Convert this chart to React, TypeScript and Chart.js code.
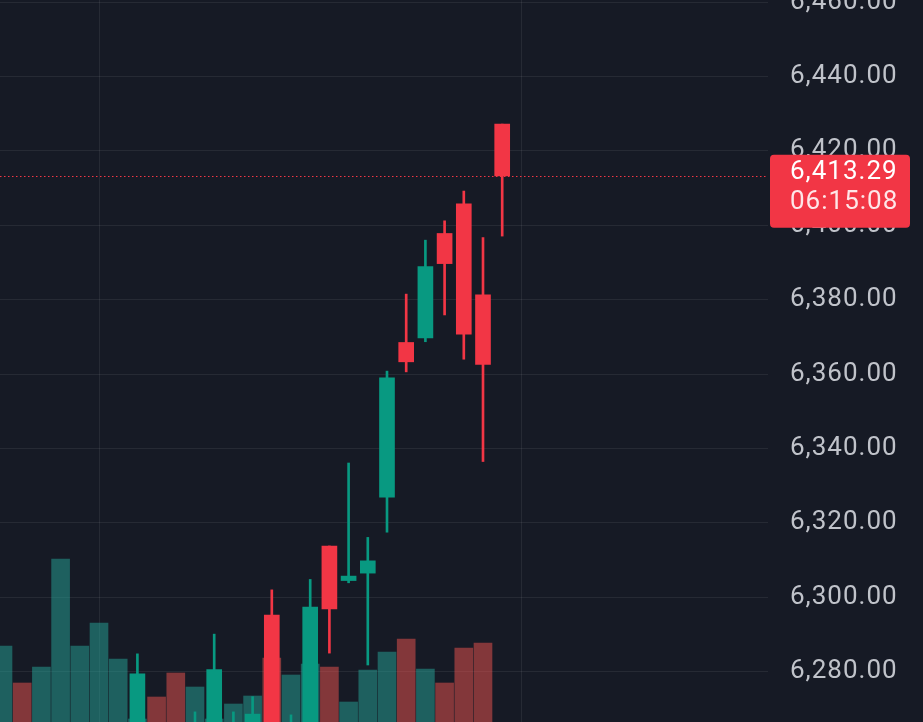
import React, { useEffect, useRef } from "react";
import { Chart, registerables } from "chart.js";

Chart.register(...registerables);

// ---- data ----
const BAR_INDEX = [0, 1, 2, 3, 4, 5, 6, 7, 8, 9, 10, 11, 12, 13, 14, 15, 16, 17, 18, 19, 20, 21, 22, 23, 24, 25, 26];
const OPEN = [6249, 6255, 6250, 6240, 6252, 6248, 6250, 6258, 6262, 6257, 6250, 6258, 6256, 6261, 6295.2, 6258, 6262, 6313.8, 6304.5, 6306.5, 6326.9, 6368.5, 6369.7, 6397.8, 6405.8, 6381.3, 6427.2];
const HIGH = [6258, 6257, 6259, 6262, 6263, 6261, 6262, 6284.8, 6264, 6260, 6269.2, 6290.1, 6269.2, 6273.3, 6302.0, 6268.4, 6304.8, 6313.8, 6336.1, 6316.1, 6360.8, 6381.5, 6396.0, 6401.2, 6409.2, 6396.7, 6427.2];
const LOW = [6244, 6246, 6247, 6236, 6249, 6244, 6247, 6255, 6254, 6246, 6247, 6255, 6252, 6258, 6256, 6254, 6259, 6285.0, 6303.9, 6281.8, 6317.5, 6360.6, 6368.7, 6375.9, 6364.0, 6336.5, 6397.1];
const CLOSE = [6255, 6250, 6256, 6258, 6260, 6257, 6259, 6279.4, 6256, 6249, 6261, 6280.6, 6262, 6268.6, 6260, 6264, 6297.4, 6296.9, 6305.7, 6309.8, 6359.0, 6363.3, 6388.9, 6389.7, 6370.7, 6362.6, 6413.29];
const VOLUME = [76, 39, 55, 163, 76, 99, 63, 3, 25, 49, 35, 3, 18, 26, 64, 47, 58, 55, 20, 52, 70, 83, 53, 39, 74, 79, null];

const PRICE_TICKS = [6280, 6300, 6320, 6340, 6360, 6380, 6400, 6420, 6440, 6460];
const TIME_GRID = [5, 27];
const LAST_PRICE = 6413.29;
const COUNTDOWN = "06:15:08";

// ---- view ranges & styles ----
const X_MIN = -0.15625;
const X_MAX = 39.84375;
const Y_MIN = 6266.48;
const Y_MAX = 6460.56;
const VOL_MAX = 722;

const BG = "#161a25";
const UP = "#089981";
const DOWN = "#f23645";
const VOL_UP = "rgba(38,166,154,0.5)";
const VOL_DOWN = "rgba(239,83,80,0.5)";
const GRID = "rgba(255,255,255,0.07)";
const TEXT = "#c0c3ca";
const FONT = "Roboto";

const fmt = (v: number) =>
  v.toLocaleString("en-US", { minimumFractionDigits: 2, maximumFractionDigits: 2 });

const spacingPlugin = {
  id: "letterSpacing",
  beforeInit(chart: any) {
    chart.ctx.letterSpacing = "1px";
  },
  beforeDraw(chart: any) {
    chart.ctx.letterSpacing = "1px";
  },
};

const priceLinePlugin = {
  id: "priceLine",
  afterDatasetsDraw(chart: any) {
    const { ctx, chartArea, scales } = chart;
    const y = scales.y.getPixelForValue(LAST_PRICE);
    ctx.save();
    ctx.strokeStyle = DOWN;
    ctx.lineWidth = 1;
    ctx.setLineDash([1.5, 2.5]);
    ctx.beginPath();
    ctx.moveTo(chartArea.left, Math.round(y) + 0.5);
    ctx.lineTo(chartArea.right, Math.round(y) + 0.5);
    ctx.stroke();
    ctx.restore();
  },
  afterDraw(chart: any) {
    const { ctx, chartArea, scales } = chart;
    const y = scales.y.getPixelForValue(LAST_PRICE);
    const x0 = chartArea.right + 2;
    const x1 = chartArea.right + 142;
    const y0 = y - 21;
    const y1 = y + 52;
    ctx.save();
    ctx.fillStyle = DOWN;
    ctx.beginPath();
    (ctx as any).roundRect(x0, y0, x1 - x0, y1 - y0, 4);
    ctx.fill();
    ctx.font = `26px ${FONT}`;
    ctx.letterSpacing = "1px";
    ctx.textAlign = "left";
    ctx.textBaseline = "middle";
    ctx.fillStyle = "#ffffff";
    ctx.fillText(fmt(LAST_PRICE), chartArea.right + 22, y - 3);
    ctx.fillStyle = "rgba(255,255,255,0.88)";
    ctx.fillText(COUNTDOWN, chartArea.right + 22, y + 27);
    ctx.restore();
  },
};

export default function App() {
  const ref = useRef<HTMLCanvasElement | null>(null);

  useEffect(() => {
    document.body.style.margin = "0";
    document.body.style.background = BG;
    const up = BAR_INDEX.map((i) => CLOSE[i] >= OPEN[i]);
    const chart = new Chart(ref.current as HTMLCanvasElement, {
      type: "bar",
      data: {
        datasets: [
          {
            label: "Body",
            yAxisID: "y",
            data: BAR_INDEX.map((i) => ({ x: i, y: [OPEN[i], CLOSE[i]] })),
            backgroundColor: BAR_INDEX.map((i) => (up[i] ? UP : DOWN)),
            barThickness: 15,
            grouped: false,
            order: 0,
          } as any,
          {
            label: "Wick",
            yAxisID: "y",
            data: BAR_INDEX.map((i) => ({ x: i, y: [LOW[i], HIGH[i]] })),
            backgroundColor: BAR_INDEX.map((i) => (up[i] ? UP : DOWN)),
            barThickness: 2,
            grouped: false,
            order: 1,
          } as any,
          {
            label: "Volume",
            yAxisID: "yv",
            data: BAR_INDEX.map((i) => ({ x: i, y: VOLUME[i] })),
            backgroundColor: BAR_INDEX.map((i) => (up[i] ? VOL_UP : VOL_DOWN)),
            barThickness: 18,
            grouped: false,
            order: 2,
          } as any,
        ],
      },
      options: {
        animation: false,
        responsive: false,
        devicePixelRatio: 1,
        layout: { padding: 0 },
        plugins: { legend: { display: false }, tooltip: { enabled: false } },
        scales: {
          x: {
            type: "linear",
            min: X_MIN,
            max: X_MAX,
            offset: false,
            grid: { color: GRID, drawTicks: false, offset: false },
            border: { display: false },
            ticks: { display: false },
            afterBuildTicks: (s: any) => {
              s.ticks = TIME_GRID.map((v) => ({ value: v }));
            },
            afterFit: (s: any) => {
              s.height = 0;
              s.paddingLeft = 0;
              s.paddingRight = 0;
            },
          },
          y: {
            type: "linear",
            position: "right",
            min: Y_MIN,
            max: Y_MAX,
            grid: { color: GRID, drawTicks: false },
            border: { display: false },
            ticks: {
              color: TEXT,
              padding: 22,
              font: { family: FONT, size: 26 },
              callback: (v: any) => fmt(Number(v)),
            },
            afterBuildTicks: (s: any) => {
              s.ticks = PRICE_TICKS.map((v) => ({ value: v }));
            },
            afterFit: (s: any) => {
              s.width = 155;
              s.paddingTop = 0;
              s.paddingBottom = 0;
            },
          },
          yv: {
            type: "linear",
            display: false,
            min: 0,
            max: VOL_MAX,
          },
        },
      } as any,
      plugins: [spacingPlugin, priceLinePlugin],
    });
    return () => chart.destroy();
  }, []);

  return (
    <div style={{ width: 923, height: 722, background: BG }}>
      <canvas ref={ref} width={923} height={722} style={{ display: "block", width: 923, height: 722 }} />
    </div>
  );
}
